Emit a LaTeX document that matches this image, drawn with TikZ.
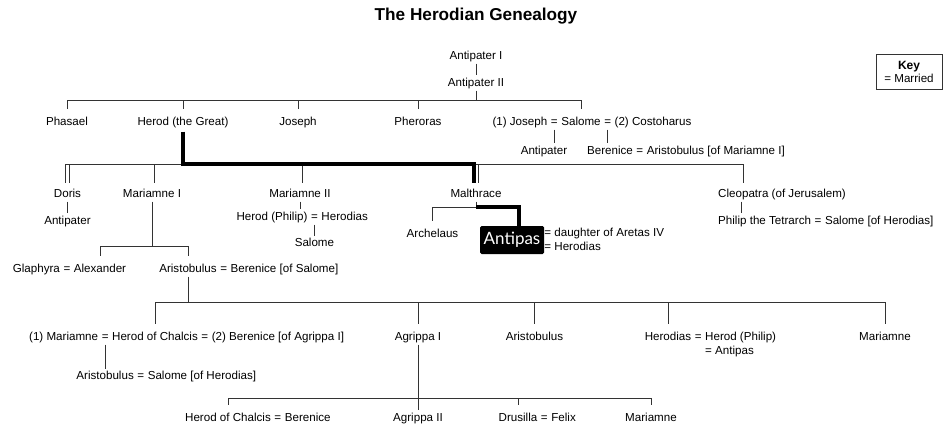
\documentclass[tikz,border=0pt]{standalone}
\usepackage{fontspec}
\setmainfont{Liberation Sans}
\newfontfamily\boxfont{Lato}
\usepackage{tikz}
\usetikzlibrary{positioning}

\begin{document}
\begin{tikzpicture}
	[x=1pt, y=-1pt,
	nm/.style={inner xsep=0pt, inner ysep=2pt, text height=8.4pt, text depth=2.4pt, font=\fontsize{11.6}{13}\selectfont},
	eq/.style={nm, inner xsep=3.2pt},
	ln/.style={line width=0.8pt, draw=black!80},
	tick/.style={ln, shorten >=5pt},
	wed/.style={ln, double, double distance=3.4pt, shorten >=3.5pt},
	heavy/.style={line width=4pt, shorten <=2pt, shorten >=3.5pt}]
	\useasboundingbox (0,0) rectangle (943,431);
	\node[font=\fontsize{17.2}{20}\selectfont\bfseries] (title) at (476,16) {The Herodian Genealogy};
	\node[draw, ln, align=center, minimum width=66pt, minimum height=35pt, font=\fontsize{11.6}{13}\selectfont] (key) at (909,71.5) {\textbf{\large Key}\\= Married};
	\node[nm] (antI) at (476,56) {Antipater I};
	\node[nm] (antII) at (476,83) {Antipater II};
	\coordinate (bar1) at (0,100);
	\node[nm] (phasael) at (67,122) {Phasael};
	\node[nm] (herod) at (183,122) {Herod (the Great)};
	\node[nm] (joseph) at (298,122) {Joseph};
	\node[nm] (pheroras) at (418,122) {Pheroras};
	\node[nm] (salome) at (581,122) {Salome};
	\node[eq, base left=0pt of salome] (eqJS) {=};
	\node[nm, base left=0pt of eqJS] (joseph1) {(1) Joseph};
	\node[eq, base right=0pt of salome] (eqSC) {=};
	\node[nm, base right=0pt of eqSC] (costo) {(2) Costoharus};
	\node[nm] (antIII) at (544,151) {Antipater};
	\node[nm] (beren1) at (610,151) {Berenice};
	\node[eq, base right=0pt of beren1] (eqBA) {=};
	\node[nm, base right=0pt of eqBA] (arist1) {Aristobulus [of Mariamne I]};
	\coordinate (bar2) at (0,164);
	\node[nm] (doris) at (67.5,194) {Doris};
	\node[nm] (mar1) at (152,194) {Mariamne I};
	\node[nm] (mar2) at (300,194) {Mariamne II};
	\node[nm] (malth) at (476,194) {Malthrace};
	\node[nm, anchor=west] (cleo) at (718,194) {Cleopatra (of Jerusalem)};
	\coordinate (cleoX) at ([xshift=23pt]cleo.north west);
	\node[nm] (antIV) at (67.5,221) {Antipater};
	\node[nm] (hphil) at (272,217) {Herod (Philip)};
	\node[eq, base right=0pt of hphil] (eqHH) {=};
	\node[nm, base right=0pt of eqHH] (herodias) {Herodias};
	\node[nm, below=11.5pt of eqHH] (salome2) {Salome};
	\node[nm, anchor=west] (philip) at (718,221) {Philip the Tetrarch};
	\node[eq, base right=0pt of philip] (eqPS) {=};
	\node[nm, base right=0pt of eqPS] (salome3) {Salome [of Herodias]};
	\coordinate (bar2m) at (0,207);
	\node[nm] (archel) at (432.5,234) {Archelaus};
	\node[fill=black, text=white, rounded corners=1.5pt, inner sep=0pt, minimum width=64pt, minimum height=28pt, font=\boxfont\fontsize{17}{18}\selectfont] (antipas) at (512,240) {Antipas};
	\node[nm, anchor=west] (wife1) at ([yshift=7pt]antipas.east) {= daughter of Aretas IV};
	\node[nm, anchor=west] (wife2) at ([yshift=-7pt]antipas.east) {= Herodias};
	\coordinate (bar3) at (0,246);
	\node[nm] (alex) at (100,269) {Alexander};
	\node[eq, base left=0pt of alex] (eqGA) {=};
	\node[nm, base left=0pt of eqGA] (glaph) {Glaphyra};
	\node[nm] (arist2) at (188,269) {Aristobulus};
	\node[eq, base right=0pt of arist2] (eqAB) {=};
	\node[nm, base right=0pt of eqAB] (beren2) {Berenice [of Salome]};
	\coordinate (bar4) at (0,302);
	\node[nm] (hoc1) at (155,337) {Herod of Chalcis};
	\node[eq, base left=0pt of hoc1] (eqMH) {=};
	\node[nm, base left=0pt of eqMH] (mar3) {(1) Mariamne};
	\node[eq, base right=0pt of hoc1] (eqHB) {=};
	\node[nm, base right=0pt of eqHB] (beren3) {(2) Berenice [of Agrippa I]};
	\node[nm] (agr1) at (418,337) {Agrippa I};
	\node[nm] (arist3) at (534.5,337) {Aristobulus};
	\node[nm] (herodias4) at (668,337) {Herodias};
	\node[eq, base right=0pt of herodias4] (eqHP) {=};
	\node[nm, base right=0pt of eqHP] (hphil2) {Herod (Philip)};
	\node[nm, anchor=base west] (antipas2) at ([yshift=-14pt]hphil2.base west) {= Antipas};
	\node[nm] (mar4) at (885,337) {Mariamne};
	\node[nm, below=24pt of eqMH] (arist4) {Aristobulus};
	\node[eq, base right=0pt of arist4] (eqAS) {=};
	\node[nm, base right=0pt of eqAS] (salome4) {Salome [of Herodias]};
	\coordinate (bar5) at (0,398);
	\node[nm] (hoc2) at (228,418) {Herod of Chalcis};
	\node[eq, base right=0pt of hoc2] (eqHB2) {=};
	\node[nm, base right=0pt of eqHB2] (beren4) {Berenice};
	\node[nm] (agr2) at (418,418) {Agrippa II};
	\node[nm] (drus) at (518,418) {Drusilla};
	\node[eq, base right=0pt of drus] (eqDF) {=};
	\node[nm, base right=0pt of eqDF] (felix) {Felix};
	\node[nm] (mar5) at (651,418) {Mariamne};
	\draw[ln] (antI) -- (antII);
	\draw[ln] (antII.south) -- (antII |- bar1);
	\draw[ln] (phasael |- bar1) -- (salome |- bar1);
	\foreach \c in {phasael,herod,joseph,pheroras,salome}
		\draw[tick] (\c |- bar1) -- (\c.north);
	\draw[ln] (eqJS.south) -- (eqJS.south |- antIII.north);
	\draw[ln] (eqSC.south) -- (eqSC.south |- beren1.north);
	\foreach \w in {doris,mar1,mar2,malth,cleoX}
		\draw[wed] (\w |- bar2) -- (\w |- doris.north);
	\draw[ln] ([xshift=-2.5pt]doris |- bar2) -- ([xshift=2.5pt]cleoX |- bar2);
	\draw[heavy] (herod.south) -- (herod.south |- bar2) -| ([xshift=-2pt]malth.north);
	\draw[ln] (doris) -- (antIV);
	\draw[ln] (mar2.south) -- (mar2.south |- hphil.north);
	\draw[ln] (eqHH) -- (salome2);
	\draw[ln] (cleoX |- cleo.south) -- (cleoX |- philip.north);
	\draw[tick] (malth.south) -- (malth.south |- bar2m) -| (archel.north);
	\draw[heavy, shorten <=0pt, shorten >=0pt] (malth.south |- bar2m) -| ([xshift=7pt]antipas.north);
	\draw[ln] (mar1.south) -- (mar1.south |- bar3);
	\draw[ln] (alex |- bar3) -- (arist2 |- bar3);
	\foreach \c in {alex,arist2}
		\draw[tick] (\c |- bar3) -- (\c.north);
	\draw[ln] (arist2.south) -- (arist2.south |- bar4);
	\draw[ln] (hoc1 |- bar4) -- (mar4 |- bar4);
	\foreach \c in {hoc1,agr1,arist3,herodias4,mar4}
		\draw[tick] (\c |- bar4) -- (\c.north);
	\draw[ln] (eqMH) -- (arist4);
	\draw[ln] (agr1) -- (agr2);
	\draw[ln] (hoc2 |- bar5) -- (mar5 |- bar5);
	\foreach \c in {hoc2,drus,mar5}
		\draw[tick] (\c |- bar5) -- (\c.north);
\end{tikzpicture}
\end{document}
